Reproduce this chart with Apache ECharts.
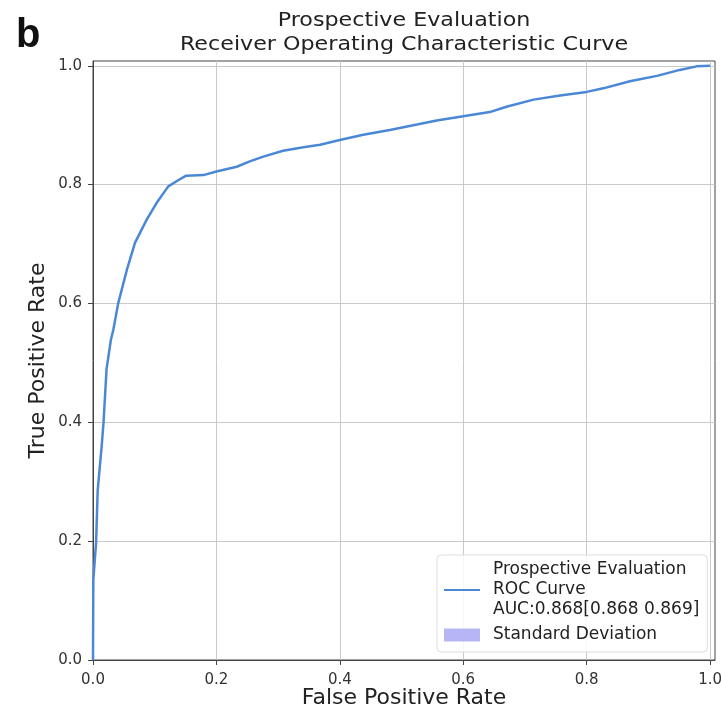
<!DOCTYPE html>
<html>
<head>
<meta charset="utf-8">
<script src="https://cdn.jsdelivr.net/npm/echarts@6/dist/echarts.min.js"></script>
<style>html,body{margin:0;padding:0;background:#fff}#c{width:722px;height:709px}</style>
</head>
<body>
<div id="c"></div>
<script>
// ---- data ----
const fpr = [0, 0.0005, 0.005, 0.0076, 0.014, 0.017, 0.022, 0.029, 0.033, 0.041, 0.055, 0.068, 0.087, 0.103, 0.122, 0.136, 0.151, 0.179, 0.200, 0.233, 0.254, 0.276, 0.308, 0.341, 0.368, 0.400, 0.438, 0.481, 0.525, 0.557, 0.600, 0.643, 0.670, 0.714, 0.757, 0.800, 0.827, 0.870, 0.914, 0.951, 0.978, 1.0];
const tpr = [0, 0.135, 0.197, 0.286, 0.359, 0.399, 0.490, 0.539, 0.556, 0.601, 0.657, 0.702, 0.741, 0.769, 0.797, 0.806, 0.815, 0.816, 0.822, 0.830, 0.839, 0.847, 0.857, 0.863, 0.867, 0.875, 0.884, 0.892, 0.901, 0.908, 0.915, 0.922, 0.931, 0.943, 0.950, 0.956, 0.962, 0.974, 0.983, 0.993, 0.999, 1.0];
const tickValues = [0, 0.2, 0.4, 0.6, 0.8, 1.0];
const titleLines = ['Prospective Evaluation', 'Receiver Operating Characteristic Curve'];
const rocName = 'Prospective Evaluation\nROC Curve\nAUC:0.868[0.868 0.869]';
const sdName = 'Standard Deviation';
const panelLetter = 'b';
const xName = 'False Positive Rate';
const yName = 'True Positive Rate';

const chart = echarts.init(document.getElementById('c'));
const font = 'DejaVu Sans';
const axisCommon = {
  type: 'value', min: 0, max: 1.008,
  axisLine: { show: true, lineStyle: { color: '#444', width: 1 } },
  axisTick: { show: true, inside: false, length: 5, customValues: tickValues, lineStyle: { color: '#444' } },
  axisLabel: { customValues: tickValues, formatter: v => v.toFixed(1), color: '#333', fontSize: 15, fontFamily: font },
  splitLine: { show: true, lineStyle: { color: '#c9c9c9', width: 1 } },
  nameLocation: 'middle',
  nameMoveOverlap: false,
  nameTextStyle: { color: '#222', fontSize: 22, fontFamily: font }
};
chart.setOption({
  animation: false,
  backgroundColor: '#fff',
  graphic: [
    { type: 'text', x: 404, y: 9, scaleX: 1.11, scaleY: 1,
      style: { text: titleLines.join('\n'), font: '20px "DejaVu Sans"', fill: '#222', align: 'center', verticalAlign: 'top', lineHeight: 24 } },
    { type: 'text', left: 16, top: 16, style: { text: panelLetter, font: 'bold 40px "Liberation Sans"', fill: '#111' } }
  ],
  grid: { left: 93, right: 7, top: 61, bottom: 49, show: true, borderColor: '#444', borderWidth: 1, outerBoundsMode: 'none', containLabel: false },
  xAxis: Object.assign({}, axisCommon, { name: xName, nameGap: 27,
    axisLabel: Object.assign({}, axisCommon.axisLabel, { margin: 13 }) }),
  yAxis: Object.assign({}, axisCommon, { name: yName, nameGap: 44,
    axisLabel: Object.assign({}, axisCommon.axisLabel, { margin: 11 }) }),
  legend: {
    orient: 'vertical', left: 437, top: 555,
    padding: [5, 8, 7, 6], itemGap: 5, itemWidth: 36, itemHeight: 13,
    backgroundColor: 'rgba(255,255,255,0.85)', borderColor: '#ddd', borderWidth: 1, borderRadius: 4,
    textStyle: { fontFamily: font, fontSize: 17, color: '#222', lineHeight: 20, padding: [0, 0, 0, 8] },
    data: [{ name: rocName, itemStyle: { opacity: 0 } }, { name: sdName, icon: 'rect' }]
  },
  series: [
    { name: rocName, type: 'line', data: fpr.map((x, i) => [x, tpr[i]]), symbol: 'none', smooth: false,
      lineStyle: { color: '#4a88d6', width: 2.5 }, itemStyle: { color: '#4a88d6' } },
    { name: sdName, type: 'line', data: [], symbol: 'none', itemStyle: { color: '#b6b6f6' }, lineStyle: { color: '#b6b6f6' } }
  ]
});
</script>
</body>
</html>
